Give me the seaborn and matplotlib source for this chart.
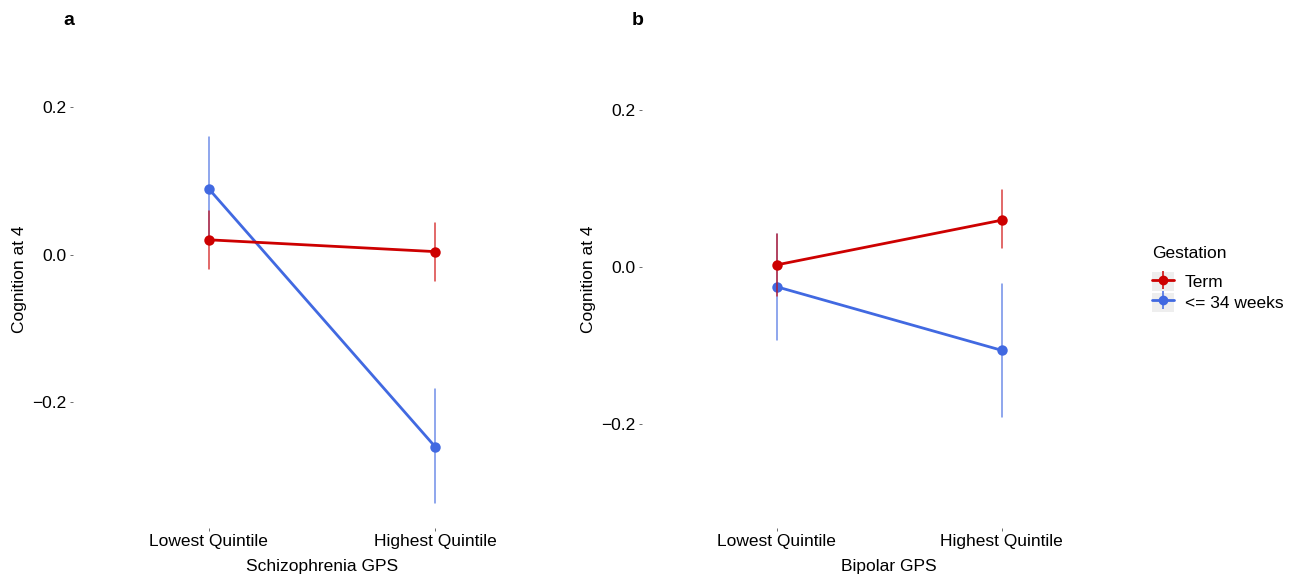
import matplotlib
matplotlib.use("Agg")
import pandas as pd
import numpy as np
import matplotlib.pyplot as plt
import seaborn as sns
from matplotlib.lines import Line2D
from matplotlib.patches import Patch
from matplotlib.legend_handler import HandlerTuple

sns.set_style("white")
plt.rcParams["font.family"] = ["Liberation Sans", "DejaVu Sans"]
plt.rcParams["text.color"] = "black"
plt.rcParams["axes.labelcolor"] = "black"
plt.rcParams["xtick.color"] = "black"
plt.rcParams["ytick.color"] = "black"

# values (mean, lower, upper)
QUINTILES = ["Lowest Quintile", "Highest Quintile"]
GROUPS = ["Term", "<= 34 weeks"]
COLORS = {"Term": "#CD0000", "<= 34 weeks": "#4169E1"}

scz_term_mean = [0.020, 0.004]
scz_term_lo = [-0.019, -0.036]
scz_term_hi = [0.059, 0.043]
scz_pre_mean = [0.089, -0.260]
scz_pre_lo = [0.019, -0.336]
scz_pre_hi = [0.159, -0.182]

bip_term_mean = [0.003, 0.060]
bip_term_lo = [-0.037, 0.024]
bip_term_hi = [0.043, 0.098]
bip_pre_mean = [-0.025, -0.106]
bip_pre_lo = [-0.093, -0.191]
bip_pre_hi = [0.043, -0.022]


def long_table(term, pre):
    rows = []
    for grp, (mean, lo, hi) in zip(GROUPS, [term, pre]):
        for i, q in enumerate(QUINTILES):
            for v in (lo[i], mean[i], hi[i]):
                rows.append({"quintile": q, "group": grp, "value": v})
    return pd.DataFrame(rows)


panels = [
    ("a", "Schizophrenia GPS",
     long_table((scz_term_mean, scz_term_lo, scz_term_hi), (scz_pre_mean, scz_pre_lo, scz_pre_hi)),
     (-0.370, 0.303), [0.056, 0.083, 0.383, 0.864]),
    ("b", "Bipolar GPS",
     long_table((bip_term_mean, bip_term_lo, bip_term_hi), (bip_pre_mean, bip_pre_lo, bip_pre_hi)),
     (-0.333, 0.302), [0.4935, 0.083, 0.380, 0.864]),
]

fig = plt.figure(figsize=(13.01, 5.76), dpi=100)

for letter, xlabel, df, ylim, rect in panels:
    ax = fig.add_axes(rect)
    sns.pointplot(data=df, x="quintile", y="value", hue="group", order=QUINTILES,
                  hue_order=GROUPS[::-1], palette=COLORS, estimator="median",
                  errorbar=lambda v: (v.min(), v.max()), dodge=False,
                  markersize=6, linewidth=2,
                  err_kws={"linewidth": 1.1, "alpha": 0.75}, ax=ax, legend=False)
    ax.set_xlim(-0.6, 1.6)
    ax.set_ylim(*ylim)
    ax.set_yticks([-0.2, 0.0, 0.2])
    ax.set_yticklabels(["\u22120.2", "0.0", "0.2"])
    for s in ax.spines.values():
        s.set_visible(False)
    ax.tick_params(axis="both", length=2.5, width=0.6, color="#555555",
                   labelsize=12.5, pad=2, direction="out", bottom=True, left=True)
    ax.set_xlabel(xlabel, fontsize=12.5, labelpad=7)
    ax.set_ylabel("Cognition at 4", fontsize=12.5, labelpad=4)
    ax.grid(False)
    fig.text(rect[0] - 0.003, 0.965, letter, fontsize=14, fontweight="bold",
             ha="center", va="center")

# legend keys: grey box + line/point + vertical error tick, overlaid
handles = []
for g in GROUPS:
    box = Patch(facecolor="#EEEEEE", edgecolor="none")
    line = Line2D([0], [0], color=COLORS[g], marker="o", markersize=6, linewidth=2)
    err = Line2D([0], [0], color=COLORS[g], marker="|", markersize=13,
                 markeredgewidth=1.1, linestyle="none")
    handles.append((box, line, err))
leg = fig.legend(handles, GROUPS, title="Gestation", loc="upper left",
                 bbox_to_anchor=(0.880, 0.585), frameon=False, fontsize=12.5,
                 title_fontsize=12.5, handlelength=1.3, handleheight=1.3,
                 handletextpad=0.6, labelspacing=0.1, borderaxespad=0,
                 handler_map={tuple: HandlerTuple(ndivide=1, pad=0)})
leg._legend_box.align = "left"
leg._legend_box.sep = 8

fig.savefig("out.png", dpi=100, facecolor="white")
